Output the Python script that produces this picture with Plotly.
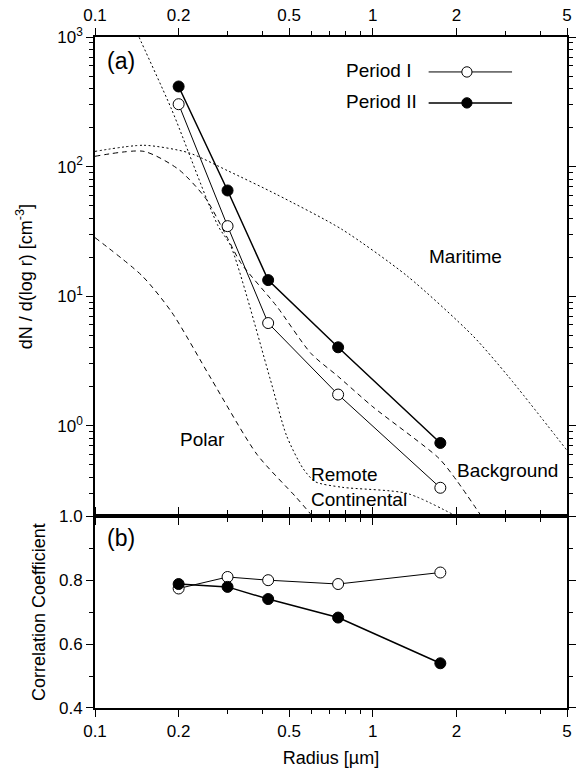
import numpy as np
import plotly.graph_objects as go

# ---------------- data ----------------
radius = [0.2, 0.3, 0.42, 0.75, 1.75]
dn_period1 = [303, 34.7, 6.2, 1.74, 0.332]
dn_period2 = [415, 65.4, 13.3, 4.03, 0.736]
corr_period1 = [0.774, 0.810, 0.800, 0.788, 0.824]
corr_period2 = [0.788, 0.779, 0.741, 0.683, 0.540]

maritime_r = [0.1, 0.15, 0.217, 0.3, 0.45, 0.775, 1.33, 2.29, 3.09, 5.0]
maritime_n = [131, 146, 128, 93, 61, 32.7, 14.3, 4.95, 2.37, 0.645]

remote_r = [0.14, 0.144, 0.189, 0.277, 0.308, 0.427, 0.489, 0.56, 0.62, 0.775, 1.33, 2.0]
remote_n = [1150, 1000, 274, 35, 24.4, 2.3, 0.84, 0.47, 0.37, 0.335, 0.30, 0.2]

background_r = [0.1, 0.15, 0.2, 0.25, 0.3, 0.334, 0.45, 0.6, 0.75, 1.0, 1.73, 2.0, 2.46]
background_n = [120, 131, 95, 57, 28, 18.2, 8.4, 3.6, 2.4, 1.4, 0.56, 0.38, 0.2]

polar_r = [0.1, 0.148, 0.189, 0.262, 0.383, 0.53, 0.607]
polar_n = [28.3, 14.3, 7.5, 2.3, 0.6, 0.28, 0.2]

xtick_vals = [0.1, 0.2, 0.5, 1, 2, 5]
xtick_text = ["0.1", "0.2", "0.5", "1", "2", "5"]
xminor_vals = [0.3, 0.4, 0.6, 0.7, 0.8, 0.9, 3, 4]
ytick_vals = [1, 10, 100, 1000]
ytick_text = ["10<sup>0</sup>", "10<sup>1</sup>", "10<sup>2</sup>", "10<sup>3</sup>"]
yminor_vals = [m * 10.0 ** e for e in (-1, 0, 1, 2) for m in range(2, 10) if m * 10.0 ** e >= 0.2]
y2tick_vals = [0.4, 0.6, 0.8, 1.0]
y2tick_text = ["0.4", "0.6", "0.8", "1.0"]
y2minor_vals = [0.5, 0.7, 0.9]

FONT = "Liberation Sans, Arial, Helvetica, sans-serif"
BLACK = "black"
MSIZE = 11

fig = go.Figure()

def model(x, y, dash, name):
    fig.add_trace(go.Scatter(x=x, y=y, mode="lines", name=name, showlegend=False,
                             line=dict(color=BLACK, width=1, dash=dash, shape="spline", smoothing=0.7),
                             xaxis="x", yaxis="y"))

model(maritime_r, maritime_n, "2px,2.5px", "Maritime")
model(remote_r, remote_n, "2px,2.5px", "Remote Continental")
model(background_r, background_n, "5px,4px", "Background")
model(polar_r, polar_n, "5px,4px", "Polar")

def period(x, y, ax, ay, fill, lw, name):
    fig.add_trace(go.Scatter(x=x, y=y, mode="lines+markers", name=name,
                             line=dict(color=BLACK, width=lw),
                             marker=dict(symbol="circle", size=MSIZE, color=fill,
                                         line=dict(color=BLACK, width=1)),
                             xaxis=ax, yaxis=ay, showlegend=False))

period(radius, dn_period1, "x", "y", "white", 1, "Period I")
period(radius, dn_period2, "x", "y", BLACK, 1.5, "Period II")
period(radius, corr_period1, "x2", "y2", "white", 1, "Period I")
period(radius, corr_period2, "x2", "y2", BLACK, 1.5, "Period II")

split = (709 - 517) / 672.0
tickfont = dict(family=FONT, size=17, color=BLACK)
titlefont = dict(family=FONT, size=18, color=BLACK)
common_axis = dict(showline=True, linecolor=BLACK, linewidth=1.7, mirror="ticks", ticks="outside",
                   ticklen=7, tickwidth=1.2, tickcolor=BLACK, showgrid=False, zeroline=False,
                   tickfont=tickfont)
xlog = dict(type="log", range=[np.log10(0.1), np.log10(5)], tickmode="array",
            tickvals=xtick_vals, ticktext=xtick_text,
            minor=dict(tickmode="array", tickvals=xminor_vals, ticks="outside", ticklen=4,
                       tickcolor=BLACK, tickwidth=1, showgrid=False))

fig.update_layout(
    width=578, height=768,
    margin=dict(l=95, r=2, t=37, b=59),
    paper_bgcolor="white", plot_bgcolor="white",
    font=dict(family=FONT, color=BLACK),
    showlegend=False,
    xaxis=dict(**common_axis, **xlog, side="top", anchor="y", domain=[0, 1]),
    yaxis=dict(**common_axis, type="log", range=[np.log10(0.2), 3], domain=[split, 1],
               anchor="x", tickmode="array", tickvals=ytick_vals, ticktext=ytick_text,
               minor=dict(tickmode="array", tickvals=yminor_vals, ticks="outside", ticklen=4,
                          tickcolor=BLACK, tickwidth=1, showgrid=False),
               title=dict(text="dN / d(log r) [cm<sup>-3</sup>]", font=titlefont, standoff=20)),
    xaxis2=dict(**common_axis, **xlog, side="bottom", anchor="y2", domain=[0, 1],
                title=dict(text="Radius [µm]", font=titlefont, standoff=12)),
    yaxis2=dict(**common_axis, range=[0.4, 1.0], domain=[0, split], anchor="x2",
                tickmode="array", tickvals=y2tick_vals, ticktext=y2tick_text,
                minor=dict(tickmode="array", tickvals=y2minor_vals, ticks="outside", ticklen=4,
                           tickcolor=BLACK, tickwidth=1, showgrid=False),
                title=dict(text="Correlation Coefficient", font=titlefont, standoff=9)),
)

def px_x(px):
    return (px - 95) / 481.0

def px_y_top(py):
    return (517 - py) / 480.0

def px_y_bot(py):
    return (709 - py) / 192.0

ann = []
def text(s, x, y, yref, size=19, xanchor="center"):
    ann.append(dict(text=s, x=x, y=y, xref="x domain", yref=yref, showarrow=False,
                    xanchor=xanchor, yanchor="middle", align="left",
                    font=dict(family=FONT, size=size, color=BLACK)))

text("(a)", px_x(122), px_y_top(61), "y domain", size=23)
text("(b)", px_x(122), px_y_bot(539), "y2 domain", size=23)
text("Period I", px_x(349), px_y_top(71), "y domain", xanchor="left")
text("Period II", px_x(349), px_y_top(102), "y domain", xanchor="left")
text("Maritime", px_x(473), px_y_top(257), "y domain")
text("Polar", px_x(205), px_y_top(440), "y domain")
text("Remote<br>Continental", px_x(313), px_y_top(488), "y domain", xanchor="left")
text("Background", px_x(462), px_y_top(471), "y domain", xanchor="left")
fig.update_layout(annotations=ann)

# legend keys
shapes = []
for py, fill, lw in [(72, "white", 1), (103, BLACK, 1.5)]:
    shapes.append(dict(type="line", xref="x domain", yref="y domain",
                       x0=px_x(435), x1=px_x(520), y0=px_y_top(py), y1=px_y_top(py),
                       line=dict(color=BLACK, width=lw)))
    shapes.append(dict(type="circle", xref="x domain", yref="y domain",
                       x0=px_x(474) - 5.2 / 481, x1=px_x(474) + 5.2 / 481,
                       y0=px_y_top(py) - 5.2 / 480, y1=px_y_top(py) + 5.2 / 480,
                       fillcolor=fill, line=dict(color=BLACK, width=1)))
fig.update_layout(shapes=shapes)

fig.write_html("out.html")
